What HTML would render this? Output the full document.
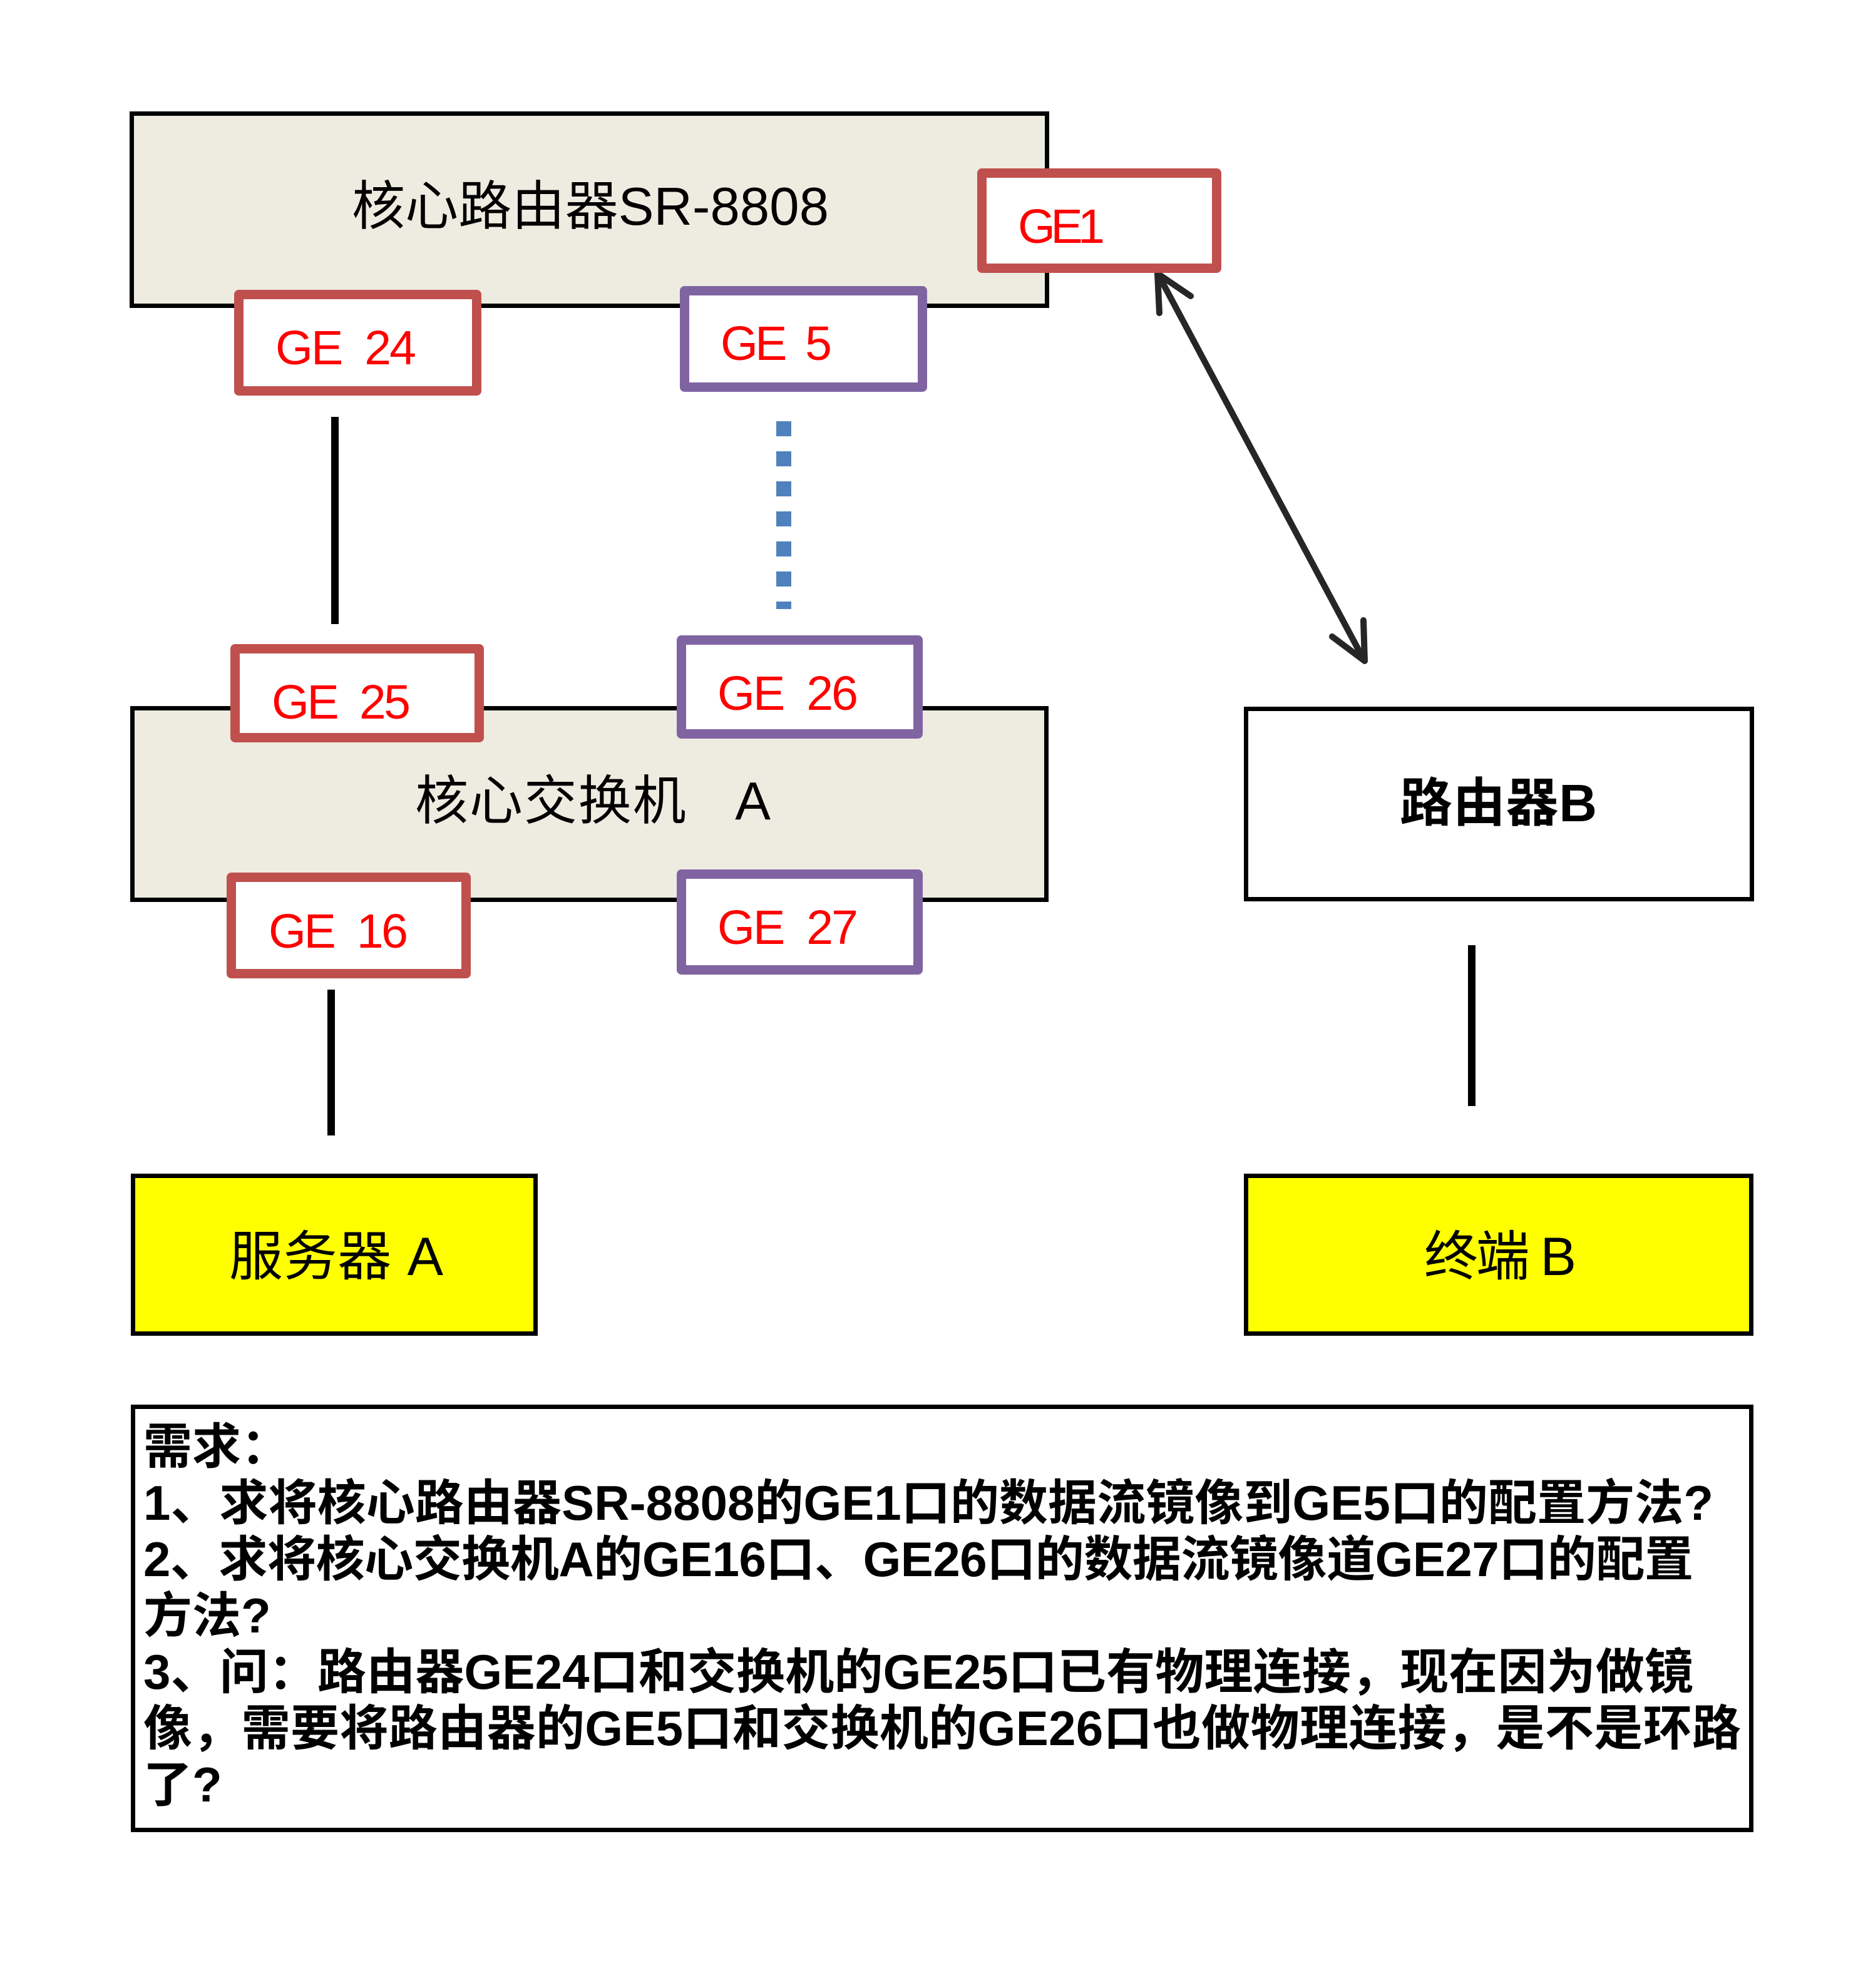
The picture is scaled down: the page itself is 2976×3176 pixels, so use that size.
<!DOCTYPE html>
<html>
<head>
<meta charset="utf-8">
<style>
html,body{margin:0;padding:0;background:#fff;}
svg{display:block;}
text{font-family:"Liberation Sans","Noto Sans CJK SC",sans-serif;}
</style>
</head>
<body>
<svg width="2976" height="3176" viewBox="0 0 2976 3176" xmlns="http://www.w3.org/2000/svg">
  <rect x="0" y="0" width="2976" height="3176" fill="#ffffff"/>

  <!-- Core router box -->
  <rect x="210.5" y="181.5" width="1462" height="307" fill="#EEECE1" stroke="#000" stroke-width="7"/>
  <text x="562" y="359" font-size="85" fill="#000" textLength="762" xml:space="preserve">核心路由器SR-8808</text>

  <!-- Core switch box -->
  <rect x="211.5" y="1131.5" width="1460" height="306" fill="#EEECE1" stroke="#000" stroke-width="7"/>
  <text x="663" y="1309" font-size="85" fill="#000" textLength="568" xml:space="preserve">核心交换机   A</text>

  <!-- Router B -->
  <rect x="1990.5" y="1132.5" width="808" height="304" fill="#fff" stroke="#000" stroke-width="7"/>
  <text x="2236" y="1312" font-size="84" font-weight="bold" fill="#000" textLength="315">路由器B</text>

  <!-- Server A -->
  <rect x="212.5" y="1878.5" width="643" height="252" fill="#FFFF00" stroke="#000" stroke-width="7"/>
  <text x="366" y="2037" font-size="86" fill="#000" textLength="342" xml:space="preserve">服务器 A</text>

  <!-- Terminal B -->
  <rect x="1990.5" y="1878.5" width="807" height="252" fill="#FFFF00" stroke="#000" stroke-width="7"/>
  <text x="2275" y="2037" font-size="86" fill="#000" textLength="243" xml:space="preserve">终端 B</text>

  <!-- Connectors -->
  <line x1="535" y1="666" x2="535" y2="997" stroke="#000" stroke-width="12"/>
  <line x1="529" y1="1581" x2="529" y2="1814" stroke="#000" stroke-width="12"/>
  <line x1="2351" y1="1510" x2="2351" y2="1767" stroke="#000" stroke-width="12"/>
  <!-- dotted blue -->
  <g fill="#4F81BD">
    <rect x="1240" y="673" width="24" height="24"/>
    <rect x="1240" y="721" width="24" height="24"/>
    <rect x="1240" y="769" width="24" height="24"/>
    <rect x="1240" y="817" width="24" height="24"/>
    <rect x="1240" y="865" width="24" height="24"/>
    <rect x="1240" y="913" width="24" height="24"/>
    <rect x="1240" y="961" width="24" height="12"/>
  </g>
  <!-- double arrow -->
  <g stroke="#262626" stroke-width="10" stroke-linecap="round" stroke-linejoin="round" fill="none">
    <line x1="1852" y1="442" x2="2177" y2="1051"/>
    <polyline points="1852,500 1849,437 1902,473"/>
    <polyline points="2178,991 2180,1056 2128,1017"/>
  </g>

  <!-- Port boxes -->
  <g fill="#fff" stroke-width="15" stroke-linejoin="round">
    <rect x="381.5" y="470.5" width="380" height="154" stroke="#C0504D"/>
    <rect x="1093.5" y="464.5" width="380" height="154" stroke="#8064A2"/>
    <rect x="1568.5" y="276.5" width="375" height="152" stroke="#C0504D"/>
    <rect x="375.5" y="1036.5" width="390" height="142" stroke="#C0504D"/>
    <rect x="1088.5" y="1022.5" width="378" height="150" stroke="#8064A2"/>
    <rect x="369.5" y="1401.5" width="375" height="154" stroke="#C0504D"/>
    <rect x="1088.5" y="1396.5" width="378" height="153" stroke="#8064A2"/>
  </g>
  <g font-size="77" fill="#FF0000">
    <text x="1626" y="388" textLength="139">GE1</text>
    <text x="440" y="582" textLength="225" xml:space="preserve">GE  24</text>
    <text x="1151" y="575" textLength="178" xml:space="preserve">GE  5</text>
    <text x="434" y="1148" textLength="222" xml:space="preserve">GE  25</text>
    <text x="1146" y="1134" textLength="225" xml:space="preserve">GE  26</text>
    <text x="429" y="1514" textLength="223" xml:space="preserve">GE  16</text>
    <text x="1146" y="1508" textLength="225" xml:space="preserve">GE  27</text>
  </g>

  <!-- Requirements box -->
  <rect x="212.5" y="2247.5" width="2585" height="676" fill="#fff" stroke="#000" stroke-width="7"/>
  <g font-size="78" font-weight="bold" fill="#000">
    <text x="229" y="2338">需求：</text>
    <text x="229" y="2428" textLength="2508">1、求将核心路由器SR-8808的GE1口的数据流镜像到GE5口的配置方法?</text>
    <text x="229" y="2518" textLength="2476">2、求将核心交换机A的GE16口、GE26口的数据流镜像道GE27口的配置</text>
    <text x="229" y="2608">方法?</text>
    <text x="229" y="2698" textLength="2476">3、问：路由器GE24口和交换机的GE25口已有物理连接，现在因为做镜</text>
    <text x="229" y="2788" textLength="2552">像，需要将路由器的GE5口和交换机的GE26口也做物理连接，是不是环路</text>
    <text x="229" y="2878">了?</text>
  </g>
</svg>
</body>
</html>
